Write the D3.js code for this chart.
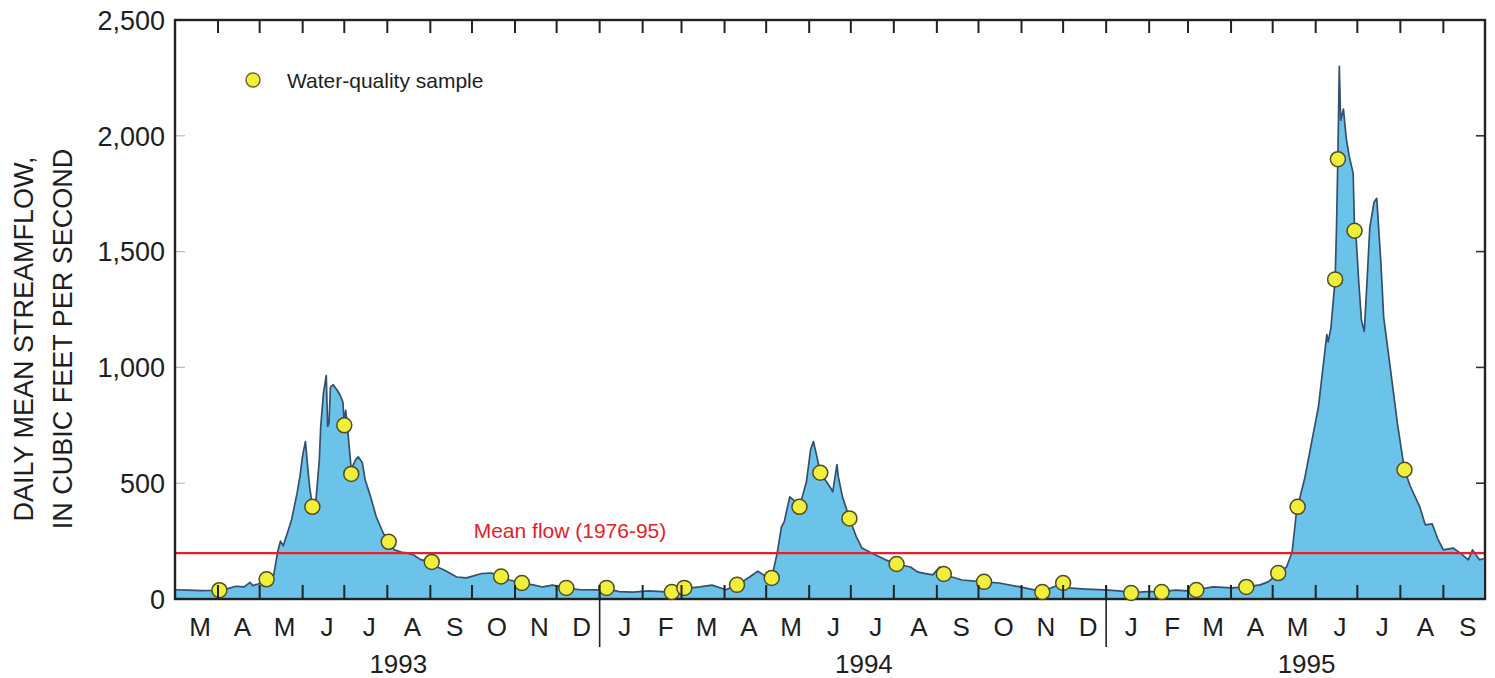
<!DOCTYPE html>
<html>
<head>
<meta charset="utf-8">
<script src="https://cdn.jsdelivr.net/npm/d3@7"></script>
<style>
  body { margin: 0; background: #fff; }
  svg { display: block; font-family: "Liberation Sans", Arial, Helvetica, sans-serif; }
</style>
</head>
<body>
<div id="chart"></div>
<script>
const flow = [
  ["1993-03-01", 40], ["1993-03-10", 38], ["1993-03-20", 36], ["1993-03-28", 37], ["1993-04-02", 40],
  ["1993-04-08", 45], ["1993-04-14", 55], ["1993-04-20", 52], ["1993-04-24", 72], ["1993-04-26", 58],
  ["1993-04-30", 65], ["1993-05-06", 85], ["1993-05-11", 100], ["1993-05-14", 205], ["1993-05-16", 250],
  ["1993-05-18", 230], ["1993-05-21", 285], ["1993-05-24", 342], ["1993-05-28", 458], ["1993-05-30", 528],
  ["1993-06-01", 620], ["1993-06-03", 680], ["1993-06-05", 545], ["1993-06-06", 485], ["1993-06-08", 400],
  ["1993-06-10", 385], ["1993-06-13", 600], ["1993-06-14", 744], ["1993-06-16", 890], ["1993-06-18", 965],
  ["1993-06-19", 745], ["1993-06-20", 760], ["1993-06-21", 915], ["1993-06-23", 925], ["1993-06-26", 900],
  ["1993-06-28", 880], ["1993-06-30", 850], ["1993-07-01", 755], ["1993-07-02", 815], ["1993-07-03", 760],
  ["1993-07-06", 560], ["1993-07-09", 600], ["1993-07-11", 614], ["1993-07-14", 588], ["1993-07-16", 515],
  ["1993-07-20", 441], ["1993-07-24", 355], ["1993-07-29", 285], ["1993-08-02", 248], ["1993-08-06", 212],
  ["1993-08-11", 203], ["1993-08-15", 199], ["1993-08-20", 190], ["1993-08-25", 170], ["1993-09-02", 160],
  ["1993-09-06", 138], ["1993-09-11", 125], ["1993-09-20", 95], ["1993-09-27", 91], ["1993-10-08", 110],
  ["1993-10-15", 112], ["1993-10-22", 97], ["1993-10-28", 82], ["1993-11-06", 69], ["1993-11-14", 61],
  ["1993-11-21", 52], ["1993-11-28", 60], ["1993-12-08", 48], ["1993-12-18", 40], ["1993-12-30", 39],
  ["1994-01-06", 45], ["1994-01-15", 32], ["1994-01-25", 30], ["1994-02-05", 35], ["1994-02-15", 32],
  ["1994-02-22", 30], ["1994-03-03", 45], ["1994-03-14", 52], ["1994-03-23", 60], ["1994-04-02", 40],
  ["1994-04-10", 60], ["1994-04-19", 95], ["1994-04-25", 120], ["1994-04-29", 104], ["1994-05-05", 91],
  ["1994-05-09", 200], ["1994-05-12", 311], ["1994-05-14", 333], ["1994-05-18", 441], ["1994-05-22", 420],
  ["1994-05-25", 400], ["1994-05-27", 441], ["1994-05-30", 506], ["1994-06-02", 644], ["1994-06-04", 680],
  ["1994-06-06", 630], ["1994-06-09", 545], ["1994-06-16", 484], ["1994-06-18", 463], ["1994-06-21", 580],
  ["1994-06-22", 528], ["1994-06-25", 441], ["1994-06-30", 350], ["1994-07-05", 268], ["1994-07-09", 220],
  ["1994-07-16", 199], ["1994-07-26", 169], ["1994-08-03", 151], ["1994-08-13", 138], ["1994-08-18", 117],
  ["1994-08-22", 112], ["1994-08-29", 104], ["1994-09-03", 138], ["1994-09-06", 108], ["1994-09-12", 95],
  ["1994-09-19", 82], ["1994-10-05", 74], ["1994-10-16", 69], ["1994-10-31", 52], ["1994-11-16", 32],
  ["1994-11-24", 52], ["1994-12-01", 69], ["1994-12-05", 48], ["1994-12-17", 43], ["1994-12-31", 39],
  ["1995-01-10", 35], ["1995-01-20", 28], ["1995-01-30", 32], ["1995-02-10", 32], ["1995-02-20", 38],
  ["1995-03-01", 35], ["1995-03-07", 40], ["1995-03-19", 52], ["1995-04-02", 48], ["1995-04-12", 52],
  ["1995-04-22", 61], ["1995-04-28", 75], ["1995-05-05", 110], ["1995-05-11", 138], ["1995-05-15", 203],
  ["1995-05-18", 368], ["1995-05-19", 400], ["1995-05-24", 519], ["1995-05-29", 675], ["1995-06-03", 830],
  ["1995-06-06", 986], ["1995-06-09", 1142], ["1995-06-10", 1110], ["1995-06-12", 1172], ["1995-06-15", 1380],
  ["1995-06-16", 1605], ["1995-06-17", 1916], ["1995-06-18", 2300], ["1995-06-19", 2067], ["1995-06-21", 2115],
  ["1995-06-23", 1990], ["1995-06-25", 1916], ["1995-06-28", 1838], ["1995-06-29", 1590], ["1995-06-30", 1574],
  ["1995-07-02", 1371], ["1995-07-04", 1202], ["1995-07-06", 1155], ["1995-07-08", 1371], ["1995-07-10", 1605],
  ["1995-07-13", 1713], ["1995-07-15", 1730], ["1995-07-18", 1449], ["1995-07-20", 1216], ["1995-07-25", 986],
  ["1995-07-30", 753], ["1995-08-04", 558], ["1995-08-08", 489], ["1995-08-15", 398], ["1995-08-19", 320],
  ["1995-08-24", 324], ["1995-08-28", 259], ["1995-09-01", 212], ["1995-09-08", 220], ["1995-09-13", 199],
  ["1995-09-19", 169], ["1995-09-22", 212], ["1995-09-27", 169], ["1995-09-30", 175]
];

// water-quality samples [date, cfs]
const samples = [
  ["1993-04-02", 38], ["1993-05-06", 85], ["1993-06-08", 398], ["1993-07-01", 750], ["1993-07-06", 540],
  ["1993-08-02", 247], ["1993-09-02", 160], ["1993-10-22", 97], ["1993-11-06", 69], ["1993-12-08", 48],
  ["1994-01-06", 48], ["1994-02-22", 30], ["1994-03-03", 48], ["1994-04-10", 61], ["1994-05-05", 91],
  ["1994-05-25", 398], ["1994-06-09", 545], ["1994-06-30", 348], ["1994-08-03", 151], ["1994-09-06", 108],
  ["1994-10-05", 74], ["1994-11-16", 30], ["1994-12-01", 69], ["1995-01-19", 26], ["1995-02-10", 30],
  ["1995-03-07", 39], ["1995-04-12", 52], ["1995-05-05", 112], ["1995-05-19", 398], ["1995-06-15", 1380],
  ["1995-06-17", 1899], ["1995-06-29", 1590], ["1995-08-04", 558]
];

const meanFlow = 198;
const meanFlowLabel = "Mean flow (1976-95)";
const yTicks = [0, 500, 1000, 1500, 2000, 2500];
const monthLetters = ["J", "F", "M", "A", "M", "J", "J", "A", "S", "O", "N", "D"];
const years = ["1993", "1994", "1995"];
const legendLabel = "Water-quality sample";
const yTitle = ["DAILY MEAN STREAMFLOW,", "IN CUBIC FEET PER SECOND"];

const W = 1495, H = 678;
const MARGIN = { top: 20, right: 10, bottom: 79, left: 175 };
const parse = d3.timeParse("%Y-%m-%d");
const start = new Date(1993, 2, 1), end = new Date(1995, 9, 1);

const x = d3.scaleTime().domain([start, end]).range([MARGIN.left, W - MARGIN.right]);
const y = d3.scaleLinear().domain([0, 2500]).range([H - MARGIN.bottom, MARGIN.top]);

const svg = d3.select("#chart").append("svg")
  .attr("width", W)
  .attr("height", H);

const flowData = flow.map(d => ({ date: parse(d[0]), q: d[1] }));
const sampleData = samples.map(d => ({ date: parse(d[0]), q: d[1] }));

// filled hydrograph
svg.append("path")
  .datum(flowData)
  .attr("fill", "#6cc3ea")
  .attr("d", d3.area().x(d => x(d.date)).y0(y(0)).y1(d => y(d.q)));

svg.append("path")
  .datum(flowData)
  .attr("fill", "none")
  .attr("stroke", "#34506c")
  .attr("stroke-width", 1.7)
  .attr("stroke-linejoin", "round")
  .attr("d", d3.line().x(d => x(d.date)).y(d => y(d.q)));

// mean flow line
svg.append("line")
  .attr("x1", x(start)).attr("x2", x(end))
  .attr("y1", y(meanFlow)).attr("y2", y(meanFlow))
  .attr("stroke", "#e5202a")
  .attr("stroke-width", 2.2);

svg.append("text")
  .attr("x", 570)
  .attr("y", y(meanFlow) - 15)
  .attr("text-anchor", "middle")
  .attr("fill", "#e5202a")
  .style("font-size", "21px")
  .text(meanFlowLabel);

// y ticks both sides
svg.append("g").selectAll("line")
  .data(yTicks.slice(1, -1))
  .join("line")
  .attr("x1", x(start)).attr("x2", x(start) + 10)
  .attr("y1", d => y(d)).attr("y2", d => y(d))
  .attr("stroke", "#bbb").attr("stroke-width", 1.2);
svg.append("g").selectAll("line")
  .data(yTicks.slice(1, -1))
  .join("line")
  .attr("x1", x(end)).attr("x2", x(end) - 9)
  .attr("y1", d => y(d)).attr("y2", d => y(d))
  .attr("stroke", "#333").attr("stroke-width", 1.6);

// frame
svg.append("rect")
  .attr("x", x(start)).attr("y", y(2500))
  .attr("width", x(end) - x(start)).attr("height", y(0) - y(2500))
  .attr("fill", "none")
  .attr("stroke", "#222")
  .attr("stroke-width", 2.4);

// y tick labels
svg.append("g").selectAll("text")
  .data(yTicks)
  .join("text")
  .attr("x", x(start) - 10)
  .attr("y", d => y(d))
  .attr("dy", "0.36em")
  .attr("text-anchor", "end")
  .attr("fill", "#1e1e1e")
  .style("font-size", "27px")
  .text(d => d3.format(",")(d));

// y axis title
yTitle.forEach((t, i) => {
  svg.append("text")
    .attr("transform", `translate(${33 + i * 39},339) rotate(-90)`)
    .attr("text-anchor", "middle")
    .attr("fill", "#1e1e1e")
    .style("font-size", "27px")
    .text(t);
});

// month labels
const months = d3.timeMonth.range(start, end);
svg.append("g").selectAll("text")
  .data(months)
  .join("text")
  .attr("x", d => (x(d) + x(d3.timeMonth.offset(d, 1))) / 2 + 3.5)
  .attr("y", 636)
  .attr("text-anchor", "middle")
  .attr("fill", "#1e1e1e")
  .style("font-size", "26px")
  .text(d => monthLetters[d.getMonth()]);

// year separators and labels
svg.append("g").selectAll("line")
  .data(d3.timeYear.range(start, end))
  .join("line")
  .attr("x1", d => x(d)).attr("x2", d => x(d))
  .attr("y1", y(0) - 13).attr("y2", 647)
  .attr("stroke", "#222").attr("stroke-width", 1.6);

svg.append("g").selectAll("text")
  .data(years)
  .join("text")
  .attr("x", d => {
    const a = d3.max([start, new Date(+d, 0, 1)]);
    const b = d3.min([end, new Date(+d + 1, 0, 1)]);
    return (x(a) + x(b)) / 2 + 11;
  })
  .attr("y", 673)
  .attr("text-anchor", "middle")
  .attr("fill", "#1e1e1e")
  .style("font-size", "26px")
  .text(d => d);

// samples
svg.append("g").selectAll("circle")
  .data(sampleData)
  .join("circle")
  .attr("cx", d => x(d.date))
  .attr("cy", d => y(d.q))
  .attr("r", 7.5)
  .attr("fill", "#f2ee3c")
  .attr("stroke", "#4d4d2a")
  .attr("stroke-width", 1.5);

// month ticks top & bottom, drawn last so nothing covers them
const monthStarts = months.slice(1);
svg.append("g").attr("class", "ticks-bottom").selectAll("line")
  .data(monthStarts)
  .join("line")
  .attr("x1", d => x(d)).attr("x2", d => x(d))
  .attr("y1", y(0)).attr("y2", y(0) - 14)
  .attr("stroke", "#222").attr("stroke-width", 2);
svg.append("g").attr("class", "ticks-top").selectAll("line")
  .data(monthStarts)
  .join("line")
  .attr("x1", d => x(d)).attr("x2", d => x(d))
  .attr("y1", y(2500)).attr("y2", y(2500) + 13)
  .attr("stroke", "#222").attr("stroke-width", 2);

// legend
svg.append("circle")
  .attr("cx", 253).attr("cy", 80).attr("r", 7)
  .attr("fill", "#f2ee3c")
  .attr("stroke", "#6b6b30")
  .attr("stroke-width", 1.5);
svg.append("text")
  .attr("x", 287).attr("y", 88)
  .attr("fill", "#1e1e1e")
  .style("font-size", "21px")
  .text(legendLabel);
</script>
</body>
</html>
